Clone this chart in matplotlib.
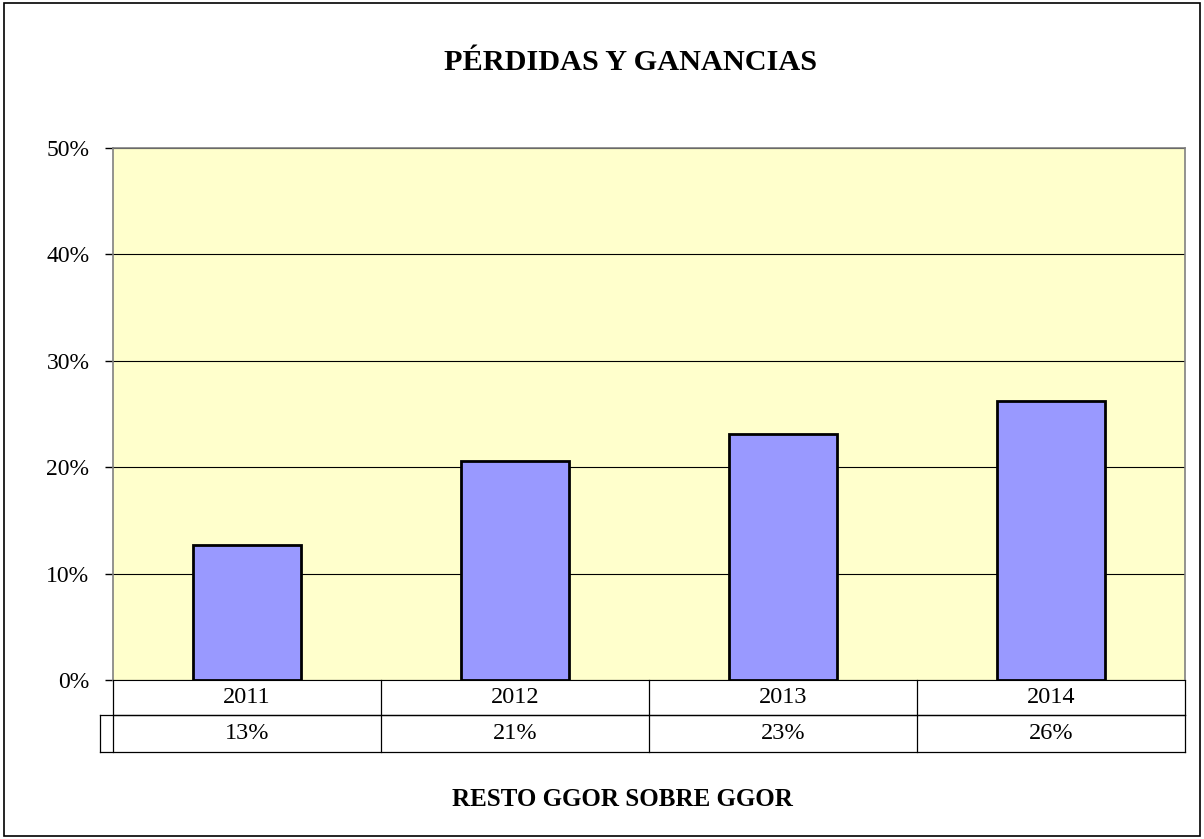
import numpy as np
import matplotlib.pyplot as plt
from matplotlib.patches import Rectangle
from matplotlib.ticker import PercentFormatter

years = ['2011', '2012', '2013', '2014']
values = [12.7, 20.6, 23.1, 26.2]
labels = ['13%', '21%', '23%', '26%']

plt.rcParams['font.family'] = ['Liberation Serif', 'DejaVu Serif']

fig = plt.figure(figsize=(12.04, 8.39), dpi=100)
fig.patches.append(Rectangle((0.003, 0.004), 0.994, 0.992, transform=fig.transFigure,
                             fill=False, edgecolor='black', linewidth=1.2))

ax = fig.add_axes([0.0939, 0.1895, 0.8903, 0.6341])
ax.set_facecolor('#FFFFCC')
x = np.arange(len(years))
ax.bar(x, values, width=0.4, color='#9999FF', edgecolor='black', linewidth=2, zorder=3)

ax.set_xlim(-0.5, len(years) - 0.5)
ax.set_ylim(0, 50)
ax.set_yticks(np.arange(0, 51, 10))
ax.yaxis.set_major_formatter(PercentFormatter(decimals=0))
ax.tick_params(axis='y', direction='out', length=6, width=1, pad=11, labelsize=17)
ax.set_xticks([])
ax.grid(axis='y', color='black', linewidth=0.8, zorder=1)
for s in ['left', 'top', 'right']:
    ax.spines[s].set_color('#808080')
    ax.spines[s].set_linewidth(1.2)
ax.spines['bottom'].set_color('black')

# data table below the plot
n = len(years)
r1 = -35 / 532
r2 = -72 / 532
key = -13 / 1072
kw = dict(transform=ax.transAxes, clip_on=False, color='black', linewidth=0.9)
ax.plot([0, 1], [r1, r1], **kw)
ax.plot([key, 1], [r1, r1], **kw)
ax.plot([key, 1], [r2, r2], **kw)
ax.plot([key, key], [r1, r2], **kw)
for i in range(n + 1):
    ax.plot([i / n, i / n], [0, r2], **kw)
for i in range(n):
    ax.text((i + 0.5) / n, r1 / 2, years[i], transform=ax.transAxes,
            ha='center', va='center', fontsize=17.5)
    ax.text((i + 0.5) / n, (r1 + r2) / 2, labels[i], transform=ax.transAxes,
            ha='center', va='center', fontsize=17.5)

fig.text(0.524, 0.925, 'PÉRDIDAS Y GANANCIAS', ha='center', va='center',
         fontsize=21.8, fontweight='bold')
fig.text(0.517, 0.0465, 'RESTO GGOR SOBRE GGOR', ha='center', va='center',
         fontsize=18, fontweight='bold')

fig.savefig('out.png', dpi=100)
